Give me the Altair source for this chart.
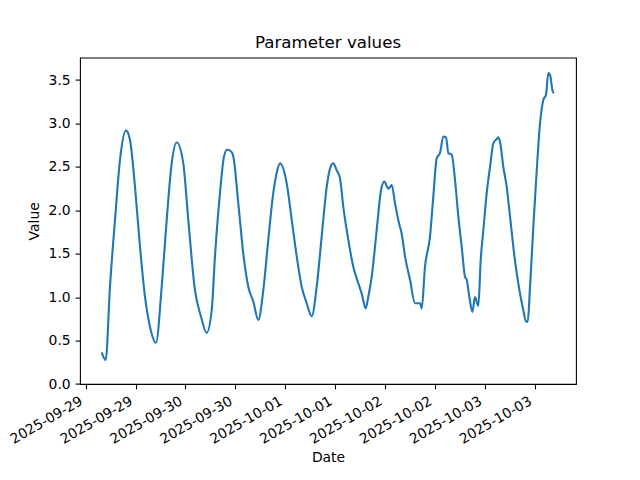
import altair as alt
import pandas as pd

# hours since 2025-09-29 00:00
hours = [3.85, 4.81, 5.84, 7.05, 8.25, 9.69, 10.65, 11.86, 13.06, 14.26, 15.46, 16.91,
         18.28, 19.48, 20.68, 21.88, 23.47, 24.67, 26.28, 27.73, 29.10, 30.30, 31.09,
         32.30, 33.26, 34.05, 35.11, 35.50, 36.70, 37.90, 39.10, 40.30, 41.51,
         42.71, 43.91, 45.11, 45.93, 46.73, 48.34, 49.54, 50.74, 51.94, 53.15, 54.35,
         55.55, 56.75, 57.96, 58.75, 59.54, 60.36, 61.15, 61.95, 63.15, 64.35, 65.56,
         66.37, 67.33, 67.96, 68.78, 69.57, 70.37, 71.01, 71.81, 72.77, 73.59, 74.38,
         75.34, 75.99, 76.79, 77.99, 79.19, 80.39, 80.80, 81.59, 82.80, 83.59, 84.41,
         85.20, 86.00, 86.65, 87.20, 88.02, 88.81, 89.60, 90.42, 91.21, 91.62, 92.25,
         92.97, 93.62, 94.41, 94.99, 95.62, 96.43, 97.23, 98.02, 98.84, 99.22, 99.63,
         100.42, 101.24, 102.03, 102.83, 103.65, 104.44, 105.24, 105.89, 106.29,
         106.85, 107.64, 108.46, 109.25, 110.04, 110.69, 111.24, 111.65, 112.30, 112.61]
values = [0.365, 0.276, 1.12, 1.89, 2.58, 2.92, 2.81, 2.27, 1.58, 1.005, 0.66, 0.475,
          1.12, 1.89, 2.54, 2.78, 2.54, 1.89, 1.08, 0.775, 0.59, 0.85, 1.47,
          2.20, 2.62, 2.70, 2.67, 2.62, 2.08, 1.50, 1.12, 0.95, 0.737,
          1.08, 1.66, 2.20, 2.43, 2.54, 2.31, 1.89, 1.47, 1.12, 0.93, 0.78,
          1.12, 1.70, 2.27, 2.48, 2.54, 2.46, 2.37, 2.04, 1.66, 1.35, 1.16,
          1.04, 0.87, 1.005, 1.235, 1.58, 1.965, 2.23, 2.33, 2.25, 2.29, 2.08,
          1.85, 1.73, 1.47, 1.20, 0.93, 0.93, 0.87, 1.35, 1.70, 2.16, 2.60,
          2.66, 2.85, 2.84, 2.66, 2.64, 2.35, 1.93, 1.58, 1.235, 1.20, 1.005,
          0.83, 1.00, 0.90, 1.43, 1.77, 2.20, 2.50, 2.77, 2.82, 2.84, 2.79,
          2.50, 2.27, 1.93, 1.58, 1.275, 1.04, 0.85, 0.717, 0.717,
          1.12, 1.81, 2.46, 3.00, 3.27, 3.33, 3.58, 3.56, 3.37, 3.35]

tick_dates = ["2025-09-29T00:00", "2025-09-29T12:00", "2025-09-30T00:00", "2025-09-30T12:00",
              "2025-10-01T00:00", "2025-10-01T12:00", "2025-10-02T00:00", "2025-10-02T12:00",
              "2025-10-03T00:00", "2025-10-03T12:00"]
y_ticks = [0.0, 0.5, 1.0, 1.5, 2.0, 2.5, 3.0, 3.5]

base = pd.Timestamp("2025-09-29 00:00")
df = pd.DataFrame({
    "Date": base + pd.to_timedelta(hours, unit="h"),
    "Value": values,
})


def dt(s):
    t = pd.Timestamp(s)
    return alt.DateTime(year=t.year, month=t.month, date=t.day, hours=t.hour, minutes=t.minute)


FONT = "DejaVu Sans"

chart = alt.Chart(df).mark_line(color="#1f77b4", strokeWidth=2.1, clip=True,
                                interpolate="monotone").encode(
    x=alt.X("Date:T",
            scale=alt.Scale(domain=[dt("2025-09-28T22:38"), dt("2025-10-03T21:54")], nice=False),
            axis=alt.Axis(title="Date", values=[dt(s) for s in tick_dates], format="%Y-%m-%d",
                          labelAngle=330, labelAlign="right", labelBaseline="top",
                          labelOffset=-8, labelOverlap=False, labelFlush=False,
                          grid=False, titlePadding=4)),
    y=alt.Y("Value:Q",
            scale=alt.Scale(domain=[0, 3.758], nice=False, zero=False),
            axis=alt.Axis(title="Value", values=y_ticks, format=".1f", grid=False,
                          titlePadding=7, labelFlush=False, labelOverlap=False)),
).properties(
    width=496,
    height=326.4,
    title=alt.TitleParams("Parameter values", fontSize=16.67, font=FONT, fontWeight="normal",
                          anchor="middle", offset=6, color="black"),
    autosize=alt.AutoSizeParams(type="none"),
    padding={"left": 72, "top": 49.6, "right": 56, "bottom": 88},
).configure_view(
    stroke="black", strokeWidth=1.1
).configure_axis(
    domain=False,
    tickColor="black", tickSize=4.9, tickWidth=1.1,
    labelPadding=4.9, labelFont=FONT, labelFontSize=13.9, labelColor="black",
    titleFont=FONT, titleFontSize=13.9, titleFontWeight="normal", titleColor="black",
)

chart.save("out.html", embed_options={"renderer": "svg", "actions": False})
